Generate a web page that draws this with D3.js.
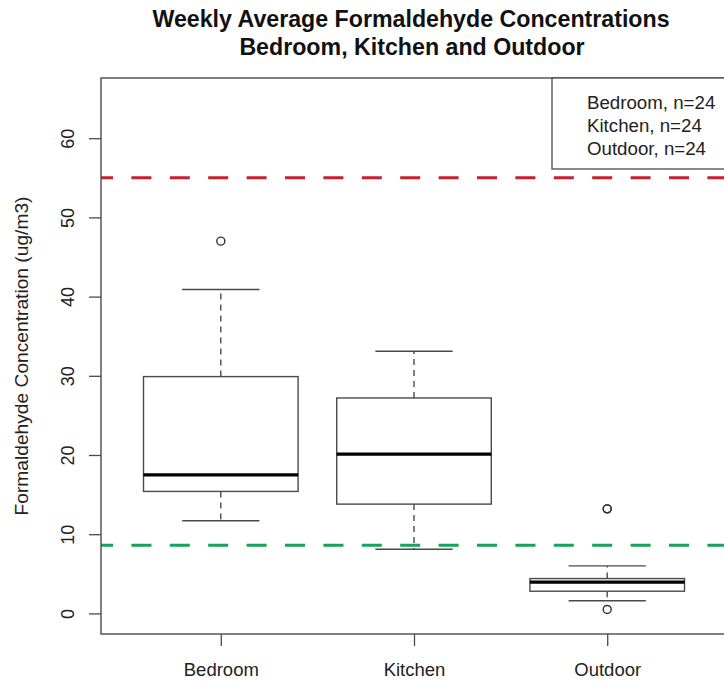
<!DOCTYPE html>
<html>
<head>
<meta charset="utf-8">
<script src="https://cdn.jsdelivr.net/npm/d3@7"></script>
<style>
  html, body { margin: 0; padding: 0; background: #fff; }
  svg { display: block; font-family: "Liberation Sans", Arial, Helvetica, sans-serif; }
</style>
</head>
<body>
<svg id="chart" width="724" height="682"></svg>
<script>
// Sampling sites and their box-plot summaries (ug/m3)
const sites        = ["Bedroom", "Kitchen", "Outdoor"];
const whiskerLow   = [11.7, 8.1, 1.6];
const quartile1    = [15.4, 13.8, 2.8];
const medians      = [17.5, 20.1, 3.95];
const quartile3    = [29.9, 27.2, 4.4];
const whiskerHigh  = [40.9, 33.1, 6.0];
const outliers     = [[47.0], [], [13.2, 13.2, 0.5]];
const sampleSizes  = [24, 24, 24];

// Reference levels drawn as dashed horizontal lines
const refLevels = [55, 8.6];
const refColors = ["#c8202f", "#17a35a"];

const yTicks = [0, 10, 20, 30, 40, 50, 60];
const yDomain = [0, 65];

const svg = d3.select("#chart");
const W = 724, H = 682;
const plot = { left: 101, top: 78, bottom: 634 };

// R-style 4% padding on both axes
const yPad = (yDomain[1] - yDomain[0]) * 0.04;
const y = d3.scaleLinear()
  .domain([yDomain[0] - yPad, yDomain[1] + yPad])
  .range([plot.bottom, plot.top]);

const xLo = 0.5 - 0.12, xHi = sites.length + 0.5 + 0.12;
const xRight = 727;
const x = d3.scaleLinear().domain([xLo, xHi]).range([plot.left, xRight]);
const boxHalf = (x(1.4) - x(1)); // boxwex 0.8
const stapleHalf = boxHalf / 2;

const ink = "#4a4a4a";

// Title
const title = svg.append("text")
  .attr("text-anchor", "middle")
  .attr("font-weight", "bold")
  .attr("font-size", 23.2)
  .attr("fill", "#111");
title.append("tspan").attr("x", 411).attr("y", 27).text("Weekly Average Formaldehyde Concentrations");
title.append("tspan").attr("x", 412).attr("y", 55).text("Bedroom, Kitchen and Outdoor");

// Reference lines (clipped to the plot region)
svg.append("clipPath").attr("id", "plotClip")
  .append("rect").attr("x", plot.left).attr("y", plot.top)
  .attr("width", xRight - plot.left).attr("height", plot.bottom - plot.top);

const refG = svg.append("g").attr("clip-path", "url(#plotClip)");
refG.selectAll("line.ref").data(refLevels).join("line")
  .attr("class", "ref")
  .attr("x1", plot.left).attr("x2", W + 10)
  .attr("y1", d => y(d)).attr("y2", d => y(d))
  .attr("stroke", (d, i) => refColors[i])
  .attr("stroke-width", 3)
  .attr("stroke-dasharray", "20,18.4")
  .attr("stroke-dashoffset", 8);

// Boxes
const g = svg.append("g");
sites.forEach((s, i) => {
  const cx = x(i + 1);
  // whiskers (dashed)
  g.append("line").attr("x1", cx).attr("x2", cx)
    .attr("y1", y(quartile3[i])).attr("y2", y(whiskerHigh[i]))
    .attr("stroke", ink).attr("stroke-width", 1.4).attr("stroke-dasharray", "6,5");
  g.append("line").attr("x1", cx).attr("x2", cx)
    .attr("y1", y(quartile1[i])).attr("y2", y(whiskerLow[i]))
    .attr("stroke", ink).attr("stroke-width", 1.4).attr("stroke-dasharray", "6,5");
  // staples
  [whiskerHigh[i], whiskerLow[i]].forEach(v => {
    g.append("line").attr("x1", cx - stapleHalf).attr("x2", cx + stapleHalf)
      .attr("y1", y(v)).attr("y2", y(v))
      .attr("stroke", ink).attr("stroke-width", 1.4);
  });
  // box
  g.append("rect")
    .attr("x", cx - boxHalf).attr("width", 2 * boxHalf)
    .attr("y", y(quartile3[i])).attr("height", y(quartile1[i]) - y(quartile3[i]))
    .attr("fill", "#fff").attr("stroke", ink).attr("stroke-width", 1.4);
  // median
  g.append("line").attr("x1", cx - boxHalf).attr("x2", cx + boxHalf)
    .attr("y1", y(medians[i])).attr("y2", y(medians[i]))
    .attr("stroke", "#000").attr("stroke-width", 3.2);
  // outliers
  outliers[i].forEach(v => {
    g.append("circle").attr("cx", cx).attr("cy", y(v)).attr("r", 4)
      .attr("fill", "none").attr("stroke", "#333").attr("stroke-width", 1.4);
  });
});

// Y axis
const yAxis = d3.axisLeft(y).tickValues(yTicks).tickSize(12).tickPadding(0).tickFormat(d3.format("d"));
const yG = svg.append("g").attr("transform", `translate(${plot.left},0)`).call(yAxis);
yG.select(".domain").remove();
yG.selectAll(".tick line").attr("stroke", ink).attr("stroke-width", 1.3);
yG.selectAll(".tick text")
  .attr("font-size", 18).attr("fill", "#222")
  .attr("text-anchor", "middle")
  .attr("x", null).attr("dy", null)
  .attr("transform", "translate(-27,0) rotate(-90)");

// X axis
const xAxis = d3.axisBottom(x).tickValues(sites.map((s, i) => i + 1))
  .tickFormat((d) => sites[d - 1]).tickSize(12).tickPadding(0);
const xG = svg.append("g").attr("transform", `translate(0,${plot.bottom})`).call(xAxis);
xG.select(".domain").remove();
xG.selectAll(".tick line").attr("stroke", ink).attr("stroke-width", 1.3);
xG.selectAll(".tick text").attr("font-size", 18.5).attr("fill", "#222")
  .attr("y", 42).attr("dy", null);

// Plot frame
svg.append("rect")
  .attr("x", plot.left).attr("y", plot.top)
  .attr("width", xRight - plot.left).attr("height", plot.bottom - plot.top)
  .attr("fill", "none").attr("stroke", ink).attr("stroke-width", 1.4);

// Y axis title
svg.append("text")
  .attr("transform", `translate(28,${(plot.top + plot.bottom) / 2}) rotate(-90)`)
  .attr("text-anchor", "middle")
  .attr("font-size", 19.2).attr("fill", "#222")
  .text("Formaldehyde Concentration (ug/m3)");

// Legend
const legendLeft = 552, legendBottom = 169;
svg.append("rect")
  .attr("x", legendLeft).attr("y", plot.top)
  .attr("width", W + 10 - legendLeft).attr("height", legendBottom - plot.top)
  .attr("fill", "#fff").attr("stroke", ink).attr("stroke-width", 1.3);
svg.append("g").selectAll("text").data(sites).join("text")
  .attr("x", 587)
  .attr("y", (d, i) => 108.5 + i * 23.4)
  .attr("font-size", 18.7).attr("fill", "#222")
  .text((d, i) => `${d}, n=${sampleSizes[i]}`);
</script>
</body>
</html>
